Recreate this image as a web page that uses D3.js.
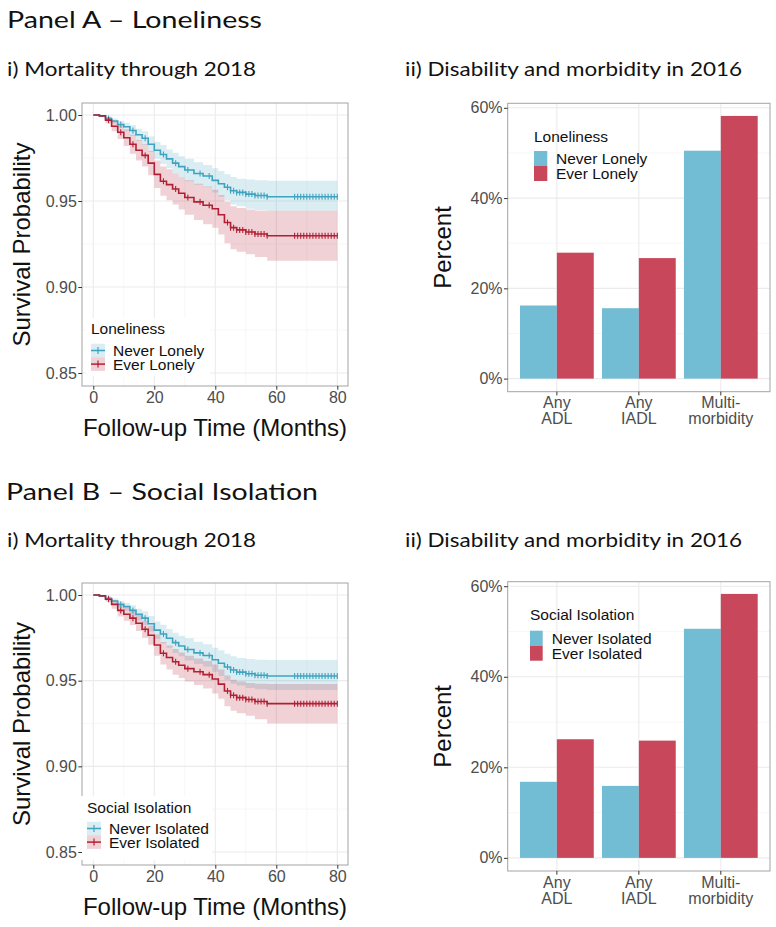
<!DOCTYPE html>
<html><head><meta charset="utf-8">
<script src="https://cdn.jsdelivr.net/npm/d3@7"></script>
<style>
body{margin:0;background:#fff}
svg text{font-family:"Liberation Sans",Arial,sans-serif}
</style>
</head><body>
<svg id="c" width="776" height="927"></svg>
<script>
// ---------------- DATA ----------------
const survTimes = [0,2,4,6,8,10,12,14,16,18,20,22,24,26,28,30,33,36,39,41,43,45,47,50,53,57,80];

// Panel A – Loneliness (Kaplan–Meier survival)
const neverLonelySurv  = [1.000,0.9995,0.998,0.9965,0.9945,0.9932,0.991,0.9885,0.9865,0.983,0.9795,0.977,0.9745,0.972,0.970,0.968,0.966,0.9645,0.962,0.960,0.958,0.956,0.955,0.954,0.9532,0.9525,0.9525];
const neverLonelyUpper = [1.000,1.000,0.999,0.998,0.9965,0.9955,0.994,0.992,0.9905,0.9875,0.9845,0.9825,0.980,0.978,0.976,0.9745,0.9725,0.971,0.969,0.9675,0.9655,0.964,0.963,0.9625,0.962,0.9618,0.9618];
const neverLonelyLower = [1.000,0.999,0.997,0.995,0.9925,0.9909,0.988,0.985,0.9825,0.9785,0.9745,0.9715,0.969,0.966,0.964,0.9615,0.9595,0.958,0.955,0.9525,0.9505,0.948,0.947,0.9455,0.9448,0.9443,0.9443];
const everLonelySurv   = [1.000,0.9995,0.997,0.9935,0.990,0.9868,0.983,0.9795,0.9765,0.972,0.9655,0.9615,0.9595,0.957,0.9545,0.952,0.9495,0.9475,0.9455,0.942,0.9375,0.9345,0.9332,0.932,0.9308,0.9298,0.9298];
const everLonelyUpper  = [1.000,1.000,0.999,0.9965,0.994,0.9915,0.9885,0.9855,0.983,0.979,0.9735,0.970,0.9685,0.966,0.964,0.962,0.960,0.9585,0.9565,0.9535,0.9495,0.947,0.946,0.945,0.9445,0.9444,0.9444];
const everLonelyLower  = [1.000,0.999,0.995,0.9905,0.986,0.982,0.9775,0.9735,0.970,0.965,0.9575,0.953,0.9505,0.948,0.945,0.942,0.939,0.9365,0.9345,0.9305,0.9255,0.922,0.9205,0.919,0.9175,0.9152,0.9147];

// Panel B – Social Isolation (Kaplan–Meier survival)
const neverIsolatedSurv  = [1.000,0.9995,0.998,0.9965,0.9945,0.9932,0.991,0.9887,0.9865,0.9832,0.9795,0.9772,0.9748,0.9722,0.9702,0.9682,0.9662,0.9647,0.9622,0.9602,0.958,0.9562,0.955,0.954,0.9532,0.9527,0.9527];
const neverIsolatedUpper = [1.000,1.000,0.999,0.998,0.9965,0.9955,0.994,0.992,0.9905,0.9877,0.9845,0.9827,0.9802,0.978,0.9762,0.9747,0.9727,0.9712,0.9692,0.9677,0.9657,0.9642,0.9632,0.9627,0.9622,0.962,0.962];
const neverIsolatedLower = [1.000,0.999,0.997,0.995,0.9925,0.9909,0.988,0.9852,0.9825,0.9787,0.9745,0.9717,0.9692,0.9662,0.9642,0.9617,0.9597,0.9582,0.9552,0.9527,0.9505,0.9482,0.9472,0.9457,0.945,0.9445,0.9445];
const everIsolatedSurv   = [1.000,0.9995,0.9975,0.9945,0.991,0.9888,0.9865,0.9835,0.980,0.9765,0.9708,0.966,0.9635,0.961,0.959,0.957,0.9552,0.9535,0.951,0.948,0.944,0.9415,0.9401,0.939,0.9378,0.9366,0.9366];
const everIsolatedUpper  = [1.000,1.000,0.999,0.997,0.9945,0.9925,0.9905,0.988,0.985,0.982,0.977,0.9725,0.9705,0.9685,0.9665,0.9645,0.963,0.9615,0.9595,0.9565,0.953,0.9505,0.9495,0.9487,0.9482,0.948,0.948];
const everIsolatedLower  = [1.000,0.999,0.996,0.992,0.9875,0.985,0.9825,0.979,0.975,0.971,0.9645,0.9595,0.9565,0.9535,0.9515,0.9495,0.9475,0.9455,0.9425,0.9395,0.935,0.9325,0.931,0.9295,0.9275,0.925,0.9245];

// censoring marks (months)
const censorTimes = [5,9,13,17,23,27,31,35,38,44,45,46,47,48,49,50,51,52,53,54,55,56,57,66,67,68,69,70,71,72,73,74,75,76,77,78,79,80];

// Bar charts – percent with condition in 2016
const barCategories = ["Any ADL","Any IADL","Multimorbidity"];
const barCategoryLines = [["Any","ADL"],["Any","IADL"],["Multi-","morbidity"]];
const neverLonelyPct   = [16.2,15.6,50.5];
const everLonelyPct    = [27.9,26.7,58.2];
const neverIsolatedPct = [16.8,15.9,50.6];
const everIsolatedPct  = [26.2,25.9,58.3];

// ticks
const survTicksX = [0,20,40,60,80];
const survMinorX = [10,30,50,70];
const survTicksY = [0.85,0.90,0.95,1.00];
const survMinorY = [0.875,0.925,0.975];
const barTicksY = [0,20,40,60];
const barMinorY = [10,30,50];

// ---------------- STYLE ----------------
const blueLine = "#3FA3C0", redLine = "#B21F34";
const blueBar = "#72BCD4", redBar = "#C8475A";
const gridMajor = "#EBEBEB", gridMinor = "#F4F4F4", borderCol = "#A3A3A3";
const tickTextCol = "#4D4D4D";

const svg = d3.select("#c");

function heading(text, x, y, size, width) {
  svg.append("text").attr("x", x).attr("y", y)
    .attr("font-size", size).attr("fill", "#111")
    .style("font-family", "Lato, 'Open Sans', sans-serif")
    .attr("textLength", width).attr("lengthAdjust", "spacingAndGlyphs")
    .text(text);
}

function styleAxis(g) {
  g.select(".domain").remove();
  g.selectAll(".tick line").attr("stroke", "#333").attr("stroke-width", 1);
  g.selectAll(".tick text").attr("fill", tickTextCol).attr("font-size", 16);
}

let clipId = 0;
function survivalPlot(cfg) {
  const left = 82, right = 348, top = cfg.top, bottom = cfg.bottom;
  const x = d3.scaleLinear().domain([0, 80]).range([93.3, 337.3]);
  const y = d3.scaleLinear().domain([0.85, 1.0]).range([bottom - 13, top + 12]);
  const g = svg.append("g");
  const cid = "clip" + (clipId++);
  g.append("clipPath").attr("id", cid).append("rect")
    .attr("x", left).attr("y", top).attr("width", right - left).attr("height", bottom - top);

  g.append("rect").attr("x", left).attr("y", top).attr("width", right - left).attr("height", bottom - top).attr("fill", "#fff");
  const grid = g.append("g").attr("clip-path", `url(#${cid})`);
  survMinorX.forEach(v => grid.append("line").attr("x1", x(v)).attr("x2", x(v)).attr("y1", top).attr("y2", bottom).attr("stroke", gridMinor).attr("stroke-width", 0.7));
  survMinorY.forEach(v => grid.append("line").attr("y1", y(v)).attr("y2", y(v)).attr("x1", left).attr("x2", right).attr("stroke", gridMinor).attr("stroke-width", 0.7));
  survTicksX.forEach(v => grid.append("line").attr("x1", x(v)).attr("x2", x(v)).attr("y1", top).attr("y2", bottom).attr("stroke", gridMajor).attr("stroke-width", 1.1));
  survTicksY.forEach(v => grid.append("line").attr("y1", y(v)).attr("y2", y(v)).attr("x1", left).attr("x2", right).attr("stroke", gridMajor).attr("stroke-width", 1.1));

  const plot = g.append("g").attr("clip-path", `url(#${cid})`);
  const area = d3.area().curve(d3.curveStepAfter)
    .x(d => x(d.t)).y0(d => y(d.lo)).y1(d => y(d.hi));
  const line = d3.line().curve(d3.curveStepAfter).x(d => x(d.t)).y(d => y(d.s));

  cfg.series.forEach(s => {
    const pts = survTimes.map((t, i) => ({t, s: s.surv[i], lo: s.lower[i], hi: s.upper[i]}));
    plot.append("path").attr("d", area(pts)).attr("fill", s.color).attr("fill-opacity", 0.2);
  });
  cfg.series.forEach(s => {
    const pts = survTimes.map((t, i) => ({t, s: s.surv[i]}));
    plot.append("path").attr("d", line(pts)).attr("fill", "none").attr("stroke", s.color).attr("stroke-width", 1.6);
    censorTimes.forEach(t => {
      const idx = d3.bisectRight(survTimes, t) - 1;
      const yy = y(s.surv[idx]);
      plot.append("line").attr("x1", x(t)).attr("x2", x(t)).attr("y1", yy - 3).attr("y2", yy + 3)
        .attr("stroke", s.color).attr("stroke-width", 1.1);
    });
  });

  // legend (inside panel, bottom-left)
  const L = cfg.legend;
  const lg = g.append("g");
  lg.append("rect").attr("x", L.bgX).attr("y", L.bgY).attr("width", L.bgW).attr("height", L.bgH).attr("fill", "#fff");
  lg.append("text").attr("x", L.x).attr("y", L.titleY).attr("font-size", 15.5).attr("fill", "#111").text(cfg.legendTitle);
  cfg.series.forEach((s, i) => {
    const cy = L.keyY + i * 13.6;
    lg.append("rect").attr("x", L.x).attr("y", cy - 6.8).attr("width", 14).attr("height", 13.6).attr("fill", s.color).attr("fill-opacity", 0.2);
    lg.append("line").attr("x1", L.x).attr("x2", L.x + 14).attr("y1", cy).attr("y2", cy).attr("stroke", s.color).attr("stroke-width", 1.5);
    lg.append("line").attr("x1", L.x + 7).attr("x2", L.x + 7).attr("y1", cy - 3.5).attr("y2", cy + 3.5).attr("stroke", s.color).attr("stroke-width", 1.2);
    lg.append("text").attr("x", L.x + 22).attr("y", cy + 5.6).attr("font-size", 15.5).attr("fill", "#111").text(s.name);
  });

  g.append("rect").attr("x", left).attr("y", top).attr("width", right - left).attr("height", bottom - top)
    .attr("fill", "none").attr("stroke", borderCol).attr("stroke-width", 1);
  if (L.coverBorder) {
    g.append("line").attr("x1", left).attr("x2", left).attr("y1", L.bgY).attr("y2", L.bgY + L.bgH).attr("stroke", "#fff").attr("stroke-width", 2);
  }

  const ax = g.append("g").attr("transform", `translate(${left},0)`)
    .call(d3.axisLeft(y).tickValues(survTicksY).tickFormat(d3.format(".2f")).tickSize(3.7).tickPadding(1.5));
  styleAxis(ax);
  const bx = g.append("g").attr("transform", `translate(0,${bottom})`)
    .call(d3.axisBottom(x).tickValues(survTicksX).tickFormat(d3.format("d")).tickSize(3.7).tickPadding(2));
  styleAxis(bx);

  g.append("text").attr("transform", `translate(29.5,${(top + bottom) / 2}) rotate(-90)`)
    .attr("text-anchor", "middle").attr("font-size", 24).attr("fill", "#111").text("Survival Probability");
  g.append("text").attr("x", (left + right) / 2).attr("y", bottom + 50)
    .attr("text-anchor", "middle").attr("font-size", 24).attr("fill", "#111").text("Follow-up Time (Months)");
}

function barPlot(cfg) {
  const left = 507.7, right = 770, top = cfg.top, bottom = cfg.bottom;
  const x0 = d3.scaleBand().domain(barCategories).range([left, right]).paddingInner(0.1).paddingOuter(0.15);
  const x1 = d3.scaleBand().domain(cfg.series.map(s => s.name)).range([0, x0.bandwidth()]).padding(0);
  const y = d3.scaleLinear().domain([-2.9, 61.0]).range([bottom, top]);
  const g = svg.append("g");

  g.append("rect").attr("x", left).attr("y", top).attr("width", right - left).attr("height", bottom - top).attr("fill", "#fff");
  barMinorY.forEach(v => g.append("line").attr("y1", y(v)).attr("y2", y(v)).attr("x1", left).attr("x2", right).attr("stroke", gridMinor).attr("stroke-width", 0.7));
  barTicksY.forEach(v => g.append("line").attr("y1", y(v)).attr("y2", y(v)).attr("x1", left).attr("x2", right).attr("stroke", gridMajor).attr("stroke-width", 1.1));
  barCategories.forEach(c => {
    const cx = x0(c) + x0.bandwidth() / 2;
    g.append("line").attr("x1", cx).attr("x2", cx).attr("y1", top).attr("y2", bottom).attr("stroke", gridMajor).attr("stroke-width", 1.1);
  });

  cfg.series.forEach(s => {
    g.append("g").selectAll("rect").data(s.values).join("rect")
      .attr("x", (d, i) => x0(barCategories[i]) + x1(s.name))
      .attr("width", x1.bandwidth())
      .attr("y", d => y(d))
      .attr("height", d => y(0) - y(d))
      .attr("fill", s.color);
  });

  g.append("rect").attr("x", left).attr("y", top).attr("width", right - left).attr("height", bottom - top)
    .attr("fill", "none").attr("stroke", borderCol).attr("stroke-width", 1);

  const ay = g.append("g").attr("transform", `translate(${left},0)`)
    .call(d3.axisLeft(y).tickValues(barTicksY).tickFormat(d => d + "%").tickSize(3.7).tickPadding(1.5));
  styleAxis(ay);
  const ax = g.append("g").attr("transform", `translate(0,${bottom})`)
    .call(d3.axisBottom(x0).tickSize(3.7).tickFormat(""));
  styleAxis(ax);
  barCategories.forEach((c, i) => {
    const cx = x0(c) + x0.bandwidth() / 2;
    barCategoryLines[i].forEach((ln, j) => {
      g.append("text").attr("x", cx).attr("y", bottom + 16.5 + j * 16).attr("text-anchor", "middle")
        .attr("font-size", 16).attr("fill", tickTextCol).text(ln);
    });
  });

  g.append("text").attr("transform", `translate(451,${(top + bottom) / 2}) rotate(-90)`)
    .attr("text-anchor", "middle").attr("font-size", 24).attr("fill", "#111").text("Percent");

  const L = cfg.legend;
  g.append("text").attr("x", L.x).attr("y", L.titleY).attr("font-size", 15.5).attr("fill", "#111").text(cfg.legendTitle);
  cfg.series.forEach((s, i) => {
    const ky = L.keyY + i * 15;
    g.append("rect").attr("x", L.x).attr("y", ky).attr("width", L.keyW).attr("height", 15).attr("fill", s.color);
    g.append("text").attr("x", L.x + L.labelDx).attr("y", ky + 13).attr("font-size", 15.5).attr("fill", "#111").text(s.name);
  });
}

// ---------------- HEADINGS ----------------
heading("Panel A – Loneliness", 7, 28, 23.5, 255);
heading("i) Mortality through 2018", 7, 76, 20, 249);
heading("ii) Disability and morbidity in 2016", 405, 76, 20, 337);
heading("Panel B – Social Isolation", 6, 500, 23.5, 312);
heading("i) Mortality through 2018", 7, 547, 20, 249);
heading("ii) Disability and morbidity in 2016", 405, 547, 20, 337);

// ---------------- CHARTS ----------------
survivalPlot({
  top: 103, bottom: 386, legendTitle: "Loneliness",
  legend: {x: 91, titleY: 334, keyY: 350.5, bgX: 86, bgY: 318, bgW: 124, bgH: 58},
  series: [
    {name: "Never Lonely", color: blueLine, surv: neverLonelySurv, upper: neverLonelyUpper, lower: neverLonelyLower},
    {name: "Ever Lonely", color: redLine, surv: everLonelySurv, upper: everLonelyUpper, lower: everLonelyLower}
  ]
});
survivalPlot({
  top: 583, bottom: 865, legendTitle: "Social Isolation",
  legend: {x: 87, titleY: 813, keyY: 828.5, bgX: 80, bgY: 796, bgW: 132, bgH: 64, coverBorder: true},
  series: [
    {name: "Never Isolated", color: blueLine, surv: neverIsolatedSurv, upper: neverIsolatedUpper, lower: neverIsolatedLower},
    {name: "Ever Isolated", color: redLine, surv: everIsolatedSurv, upper: everIsolatedUpper, lower: everIsolatedLower}
  ]
});
barPlot({
  top: 103.3, bottom: 391.7, legendTitle: "Loneliness",
  legend: {x: 534, titleY: 141.7, keyY: 151, keyW: 13.3, labelDx: 22},
  series: [
    {name: "Never Lonely", color: blueBar, values: neverLonelyPct},
    {name: "Ever Lonely", color: redBar, values: everLonelyPct}
  ]
});
barPlot({
  top: 581.7, bottom: 871, legendTitle: "Social Isolation",
  legend: {x: 530, titleY: 620, keyY: 630.7, keyW: 12.7, labelDx: 21.7},
  series: [
    {name: "Never Isolated", color: blueBar, values: neverIsolatedPct},
    {name: "Ever Isolated", color: redBar, values: everIsolatedPct}
  ]
});
</script>
</body></html>
